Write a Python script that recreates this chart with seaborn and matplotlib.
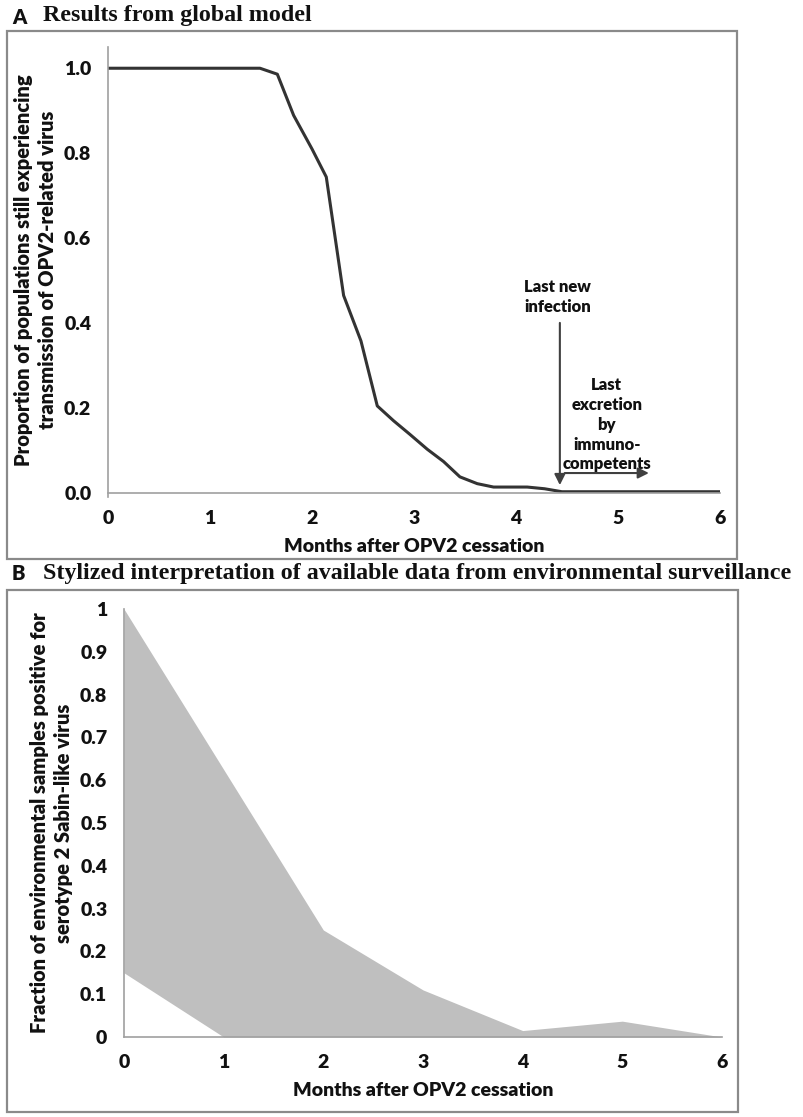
import numpy as np
import pandas as pd
import matplotlib
matplotlib.use("Agg")
import matplotlib.pyplot as plt
import seaborn as sns
from matplotlib.patches import Rectangle

# ---------------- data ----------------
months_a = [0, 1.49, 1.66, 1.82, 2.00, 2.14, 2.31, 2.48, 2.64, 2.80, 2.96, 3.13,
            3.29, 3.45, 3.62, 3.78, 3.95, 4.11, 4.28, 4.45, 5.0, 6.0]
prop_a = [1.0, 1.0, 0.986, 0.889, 0.81, 0.744, 0.465, 0.358, 0.205, 0.17, 0.138, 0.103,
          0.074, 0.038, 0.022, 0.014, 0.014, 0.014, 0.010, 0.003, 0.003, 0.003]

months_b = [0, 1, 2, 3, 4, 5, 6]
upper_b = [1.0, 0.625, 0.25, 0.11, 0.015, 0.037, 0.0]
lower_b = [0.15, 0.0, 0.0, 0.0, 0.0, 0.0, 0.0]

xticks = [0, 1, 2, 3, 4, 5, 6]
yticks_a = [0.0, 0.2, 0.4, 0.6, 0.8, 1.0]
ytick_labels_a = ["0.0", "0.2", "0.4", "0.6", "0.8", "1.0"]
yticks_b = [0, 0.1, 0.2, 0.3, 0.4, 0.5, 0.6, 0.7, 0.8, 0.9, 1]
ytick_labels_b = ["0", "0.1", "0.2", "0.3", "0.4", "0.5", "0.6", "0.7", "0.8", "0.9", "1"]

title_a = "Results from global model"
title_b = "Stylized interpretation of available data from environmental surveillance"
ylabel_a = "Proportion of populations still experiencing\ntransmission of OPV2-related virus"
ylabel_b = "Fraction of environmental samples positive for\nserotype 2 Sabin-like virus"
xlabel = "Months after OPV2 cessation"

# ---------------- style ----------------
sns.set_theme(style="white")
SANS = ['Lato', 'DejaVu Sans']
WT = 'heavy'
plt.rcParams['font.family'] = SANS
plt.rcParams['font.weight'] = WT

W, H = 804, 1117
fig = plt.figure(figsize=(W / 100, H / 100), dpi=100)


def fx(px):
    return px / W


def fy(py):
    return 1 - py / H


def ax_rect(x0, y0, x1, y1):
    return [fx(x0), fy(y1), fx(x1) - fx(x0), fy(y0) - fy(y1)]


BOX = "#8a8a8a"
AXC = "#a0a0a0"
TXT = "#111111"

# outer boxes
fig.patches.append(Rectangle((fx(7), fy(559)), fx(737) - fx(7), fy(31) - fy(559),
                             transform=fig.transFigure, fill=False, ec=BOX, lw=1.6))
fig.patches.append(Rectangle((fx(7), fy(1112)), fx(738) - fx(7), fy(590) - fy(1112),
                             transform=fig.transFigure, fill=False, ec=BOX, lw=1.6))

# panel titles
fig.text(fx(12), fy(17), "A", ha="left", va="center", fontsize=14.5, fontweight=WT,
         family=SANS, color=TXT)
fig.text(fx(43), fy(16), title_a, ha="left", va="center", fontsize=17.3, fontweight="bold",
         family=["Liberation Serif", "DejaVu Serif"], color=TXT)
fig.text(fx(12), fy(574), "B", ha="left", va="center", fontsize=14.5, fontweight=WT,
         family=SANS, color=TXT)
fig.text(fx(43), fy(573), title_b, ha="left", va="center", fontsize=17.3, fontweight="bold",
         family=["Liberation Serif", "DejaVu Serif"], color=TXT)


def style_axes(ax):
    for s in ["top", "right"]:
        ax.spines[s].set_visible(False)
    for s in ["left", "bottom"]:
        ax.spines[s].set_color(AXC)
        ax.spines[s].set_linewidth(1.2)
    ax.tick_params(axis="both", which="both", direction="out", length=6, width=1.2,
                   color=AXC, labelsize=14, labelcolor=TXT, pad=6)
    for lab in ax.get_xticklabels() + ax.get_yticklabels():
        lab.set_fontweight(WT)


# ---------------- panel A ----------------
axA = fig.add_axes(ax_rect(108, 47, 720, 493))
dfa = pd.DataFrame({"month": months_a, "prop": prop_a})
sns.lineplot(data=dfa, x="month", y="prop", ax=axA, color="#333333", lw=2.2)
axA.set_xlim(0, 6)
axA.set_ylim(0, 1.05)
axA.set_xticks(xticks)
axA.set_xticklabels([str(t) for t in xticks])
axA.set_yticks(yticks_a)
axA.set_yticklabels(ytick_labels_a)
axA.set_xlabel(xlabel, fontsize=14, fontweight=WT, color=TXT, labelpad=8)
axA.set_ylabel(ylabel_a, fontsize=14.5, fontweight=WT, color=TXT, labelpad=5,
               linespacing=1.3)
style_axes(axA)
axA.spines["left"].set_bounds(-0.01, 1.05)

# annotations
axA.annotate("", xy=(4.43, 0.012), xytext=(4.43, 0.407),
             arrowprops=dict(arrowstyle="-|>", color="#404040", lw=1.5, mutation_scale=16))
axA.annotate("", xy=(5.33, 0.047), xytext=(4.45, 0.047),
             arrowprops=dict(arrowstyle="-|>", color="#404040", lw=1.5, mutation_scale=16))
axA.text(4.41, 0.461, "Last new\ninfection", ha="center", va="center", fontsize=12,
         fontweight=WT, color=TXT, linespacing=1.3)
axA.text(4.89, 0.161, "Last\nexcretion\nby\nimmuno-\ncompetents", ha="center", va="center",
         fontsize=12, fontweight=WT, color=TXT, linespacing=1.3)

# ---------------- panel B ----------------
axB = fig.add_axes(ax_rect(124, 609, 722, 1037))
dfb = pd.DataFrame({"month": months_b, "upper": upper_b, "lower": lower_b})
sns.lineplot(data=dfb, x="month", y="upper", ax=axB, color="#bfbfbf", lw=0)
axB.fill_between(dfb["month"], dfb["lower"], dfb["upper"], color="#bfbfbf", lw=0)
axB.set_xlim(0, 6)
axB.set_ylim(0, 1)
axB.set_xticks(xticks)
axB.set_xticklabels([str(t) for t in xticks])
axB.set_yticks(yticks_b)
axB.set_yticklabels(ytick_labels_b)
axB.set_xlabel(xlabel, fontsize=14, fontweight=WT, color=TXT, labelpad=8)
axB.set_ylabel(ylabel_b, fontsize=14.5, fontweight=WT, color=TXT, labelpad=5,
               linespacing=1.3)
style_axes(axB)

fig.savefig("out.png", dpi=100, facecolor="white")
